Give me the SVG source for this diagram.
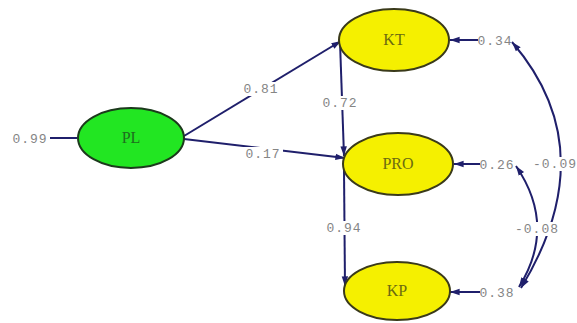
<svg xmlns="http://www.w3.org/2000/svg" width="577" height="323" viewBox="0 0 577 323">
<style>
.edge{fill:none;stroke:#1f1f6b;stroke-width:2}
.num{font-family:"Liberation Mono",monospace;font-size:13px;fill:#858585;letter-spacing:1px}
.lbl{font-family:"Liberation Serif",serif;font-size:16px}
.bg{fill:#ffffff}
</style>
<defs>
<marker id="ah" viewBox="0 0 12 10" refX="12" refY="5" markerWidth="10" markerHeight="8" orient="auto-start-reverse" markerUnits="userSpaceOnUse">
<path d="M0,1 L12,5 L0,9 z" fill="#1f1f6b"/>
</marker>
</defs>
<rect width="577" height="323" fill="#ffffff"/>
<g id="connectors">
<line class="edge" x1="50" y1="138" x2="77" y2="138"/>
<line class="edge" x1="184" y1="136" x2="341" y2="41" marker-end="url(#ah)"/>
<line class="edge" x1="184" y1="139" x2="345" y2="158" marker-end="url(#ah)"/>
<line class="edge" x1="340" y1="42" x2="344" y2="156" marker-end="url(#ah)"/>
<line class="edge" x1="344" y1="170" x2="345" y2="286" marker-end="url(#ah)"/>
<line class="edge" x1="478" y1="40" x2="450" y2="40" marker-end="url(#ah)"/>
<line class="edge" x1="480" y1="164" x2="454" y2="164" marker-end="url(#ah)"/>
<line class="edge" x1="480" y1="292" x2="450" y2="292" marker-end="url(#ah)"/>
<path class="edge" d="M512,42 Q605,150 521,288" marker-start="url(#ah)" marker-end="url(#ah)"/>
<path class="edge" d="M516,166 Q557,226 519,287" marker-start="url(#ah)" marker-end="url(#ah)"/>
<rect class="bg" x="241" y="82" width="40" height="14"/>
<text class="num" x="261" y="93" text-anchor="middle">0.81</text>
<rect class="bg" x="243" y="147" width="40" height="14"/>
<text class="num" x="263" y="158" text-anchor="middle">0.17</text>
<rect class="bg" x="320" y="96" width="40" height="14"/>
<text class="num" x="340" y="107" text-anchor="middle">0.72</text>
<rect class="bg" x="324" y="221" width="40" height="14"/>
<text class="num" x="344" y="232" text-anchor="middle">0.94</text>
<text class="num" x="30" y="143" text-anchor="middle">0.99</text>
<text class="num" x="495" y="45" text-anchor="middle">0.34</text>
<text class="num" x="497" y="169" text-anchor="middle">0.26</text>
<text class="num" x="497" y="297" text-anchor="middle">0.38</text>
<rect class="bg" x="531" y="157" width="46" height="14"/>
<text class="num" x="555" y="168" text-anchor="middle">-0.09</text>
<rect class="bg" x="514" y="222" width="46" height="14"/>
<text class="num" x="537" y="233" text-anchor="middle">-0.08</text>
</g>
<g id="PL">
<ellipse cx="131" cy="138" rx="53" ry="30" fill="#22e622" stroke="#1c3a1c" stroke-width="2"/>
<text class="lbl" x="131" y="143" text-anchor="middle" fill="#1e6e1e">PL</text>
</g>
<g id="KT">
<ellipse cx="394" cy="40" rx="55" ry="31" fill="#f5f000" stroke="#3a3a1a" stroke-width="2"/>
<text class="lbl" x="394" y="45" text-anchor="middle" fill="#6b6b10">KT</text>
</g>
<g id="PRO">
<ellipse cx="398" cy="164" rx="55" ry="31" fill="#f5f000" stroke="#3a3a1a" stroke-width="2"/>
<text class="lbl" x="398" y="169" text-anchor="middle" fill="#6b6b10">PRO</text>
</g>
<g id="KP">
<ellipse cx="397" cy="291" rx="53" ry="29" fill="#f5f000" stroke="#3a3a1a" stroke-width="2"/>
<text class="lbl" x="397" y="296" text-anchor="middle" fill="#6b6b10">KP</text>
</g>
</svg>
